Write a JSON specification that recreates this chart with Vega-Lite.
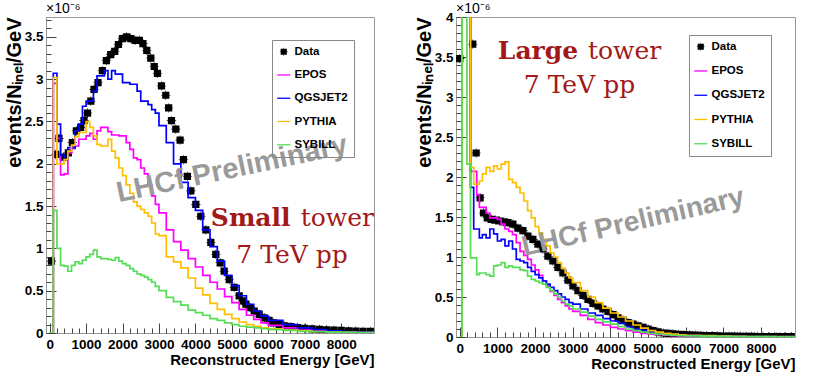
{
"$schema":"https://vega.github.io/schema/vega-lite/v6.json",
"padding":{"left":3,"top":1,"right":0,"bottom":0},
"background":"white",
"spacing":38,
"config":{
 "view":{"stroke":"#999999","strokeWidth":1},
 "axis":{"grid":false,"labelFont":"Liberation Sans","labelFontWeight":"bold","labelFontSize":13.5,"labelColor":"#000000","labelFlush":false,"labelOverlap":false,"tickColor":"#444444","tickWidth":1,"domainColor":"#999999","domainWidth":1,"titleFont":"Liberation Sans","titleFontWeight":"bold","titleFontSize":15,"titleColor":"#000000"},
 "legend":{"orient":"none","padding":6,"rowPadding":10.25,"labelFont":"Liberation Sans","labelFontWeight":"bold","labelFontSize":11.5,"labelColor":"#000000","strokeColor":"#888888","symbolSize":100,"labelOffset":5,"symbolStrokeWidth":0}
},
"resolve":{"scale":{"color":"independent","shape":"independent"},"legend":{"color":"independent","shape":"independent"}},
"hconcat":[
{
 "width":328,"height":316,
 "resolve":{"axis":{"x":"independent","y":"independent"}},
 "layer":[
  {"data":{"values":[
   {"series":"Data","E":50,"v":0.85},{"series":"Data","E":165,"v":2.11},{"series":"Data","E":256,"v":2.30},{"series":"Data","E":375,"v":2.08},{"series":"Data","E":513,"v":2.13},{"series":"Data","E":623,"v":2.25},{"series":"Data","E":733,"v":2.39},{"series":"Data","E":852,"v":2.43},{"series":"Data","E":943,"v":2.51},{"series":"Data","E":1040,"v":2.60},{"series":"Data","E":1130,"v":2.74},{"series":"Data","E":1218,"v":2.88},{"series":"Data","E":1328,"v":2.96},{"series":"Data","E":1447,"v":3.10},{"series":"Data","E":1557,"v":3.22},{"series":"Data","E":1676,"v":3.29},{"series":"Data","E":1786,"v":3.33},{"series":"Data","E":1886,"v":3.41},{"series":"Data","E":1996,"v":3.48},{"series":"Data","E":2115,"v":3.50},{"series":"Data","E":2225,"v":3.48},{"series":"Data","E":2344,"v":3.46},{"series":"Data","E":2463,"v":3.46},{"series":"Data","E":2560,"v":3.42},{"series":"Data","E":2665,"v":3.34},{"series":"Data","E":2775,"v":3.25},{"series":"Data","E":2870,"v":3.15},{"series":"Data","E":2958,"v":3.07},{"series":"Data","E":3068,"v":2.92},{"series":"Data","E":3187,"v":2.81},{"series":"Data","E":3265,"v":2.66},{"series":"Data","E":3343,"v":2.51},{"series":"Data","E":3462,"v":2.41},{"series":"Data","E":3580,"v":2.28},{"series":"Data","E":3672,"v":2.05},{"series":"Data","E":3780,"v":1.85},{"series":"Data","E":3874,"v":1.68},{"series":"Data","E":4011,"v":1.52},{"series":"Data","E":4148,"v":1.38},{"series":"Data","E":4286,"v":1.22},{"series":"Data","E":4423,"v":1.07},{"series":"Data","E":4560,"v":0.93},{"series":"Data","E":4679,"v":0.83},{"series":"Data","E":4789,"v":0.73},{"series":"Data","E":4927,"v":0.63},{"series":"Data","E":5064,"v":0.54},{"series":"Data","E":5201,"v":0.44},{"series":"Data","E":5300,"v":0.38},{"series":"Data","E":5385,"v":0.34},{"series":"Data","E":5500,"v":0.30},{"series":"Data","E":5613,"v":0.26},{"series":"Data","E":5750,"v":0.22},{"series":"Data","E":5888,"v":0.18},{"series":"Data","E":6020,"v":0.15},{"series":"Data","E":6150,"v":0.12},{"series":"Data","E":6300,"v":0.10},{"series":"Data","E":6450,"v":0.085},{"series":"Data","E":6621,"v":0.075},{"series":"Data","E":6800,"v":0.065},{"series":"Data","E":7000,"v":0.055},{"series":"Data","E":7200,"v":0.048},{"series":"Data","E":7400,"v":0.043},{"series":"Data","E":7600,"v":0.038},{"series":"Data","E":7800,"v":0.034},{"series":"Data","E":8000,"v":0.03},{"series":"Data","E":8200,"v":0.026},{"series":"Data","E":8400,"v":0.022},{"series":"Data","E":8600,"v":0.02},{"series":"Data","E":8800,"v":0.018}
  ]},
   "mark":{"type":"point","filled":true,"opacity":1,"size":136,"clip":true},
   "encoding":{
    "x":{"field":"E","type":"quantitative","scale":{"domain":[-100,8900],"nice":false,"zero":false},
     "axis":{"orient":"bottom","values":[0,1000,2000,3000,4000,5000,6000,7000,8000],"format":"d","tickSize":-10,"labelPadding":14.5,"title":"Reconstructed Energy [GeV]","titleAnchor":"end","titlePadding":1}},
    "y":{"field":"v","type":"quantitative","scale":{"domain":[0,3.735],"nice":false,"zero":false},
     "axis":{"orient":"left","values":[0,0.5,1,1.5,2,2.5,3,3.5],"format":"~g","tickSize":-10,"labelPadding":13,"title":"events/Nᵢₙₑₗ/GeV","titleFontSize":20,"titleAnchor":"end","titlePadding":0}},
    "color":{"field":"series","type":"nominal","scale":{"domain":["Data","EPOS","QGSJET2","PYTHIA","SYBILL"],"range":["#000000","#FF00FF","#0000FF","#FFBF00","#55DD55"]},"legend":{"title":null,"legendX":226,"legendY":23}},
    "shape":{"field":"series","type":"nominal","scale":{"domain":["Data","EPOS","QGSJET2","PYTHIA","SYBILL"],"range":["M-0.62,-0.62H0.62V0.62H-0.62Z M-0.8,-0.05H0.8V0.05H-0.8Z M-0.05,-0.8H0.05V0.8H-0.05Z","M-1.3,-0.13H1.3V0.13H-1.3Z","M-1.3,-0.13H1.3V0.13H-1.3Z","M-1.3,-0.13H1.3V0.13H-1.3Z","M-1.3,-0.13H1.3V0.13H-1.3Z"]},"legend":{"title":null,"legendX":226,"legendY":23}}
   }},
  {"data":{"values":[
   {"series":"EPOS","E":0,"v":0},{"series":"EPOS","E":100,"v":2.95},{"series":"EPOS","E":200,"v":2.30},{"series":"EPOS","E":300,"v":1.87},{"series":"EPOS","E":400,"v":1.88},{"series":"EPOS","E":500,"v":2.13},{"series":"EPOS","E":600,"v":2.18},{"series":"EPOS","E":700,"v":2.21},{"series":"EPOS","E":800,"v":2.29},{"series":"EPOS","E":900,"v":2.29},{"series":"EPOS","E":1000,"v":2.33},{"series":"EPOS","E":1100,"v":2.36},{"series":"EPOS","E":1200,"v":2.29},{"series":"EPOS","E":1300,"v":2.39},{"series":"EPOS","E":1400,"v":2.43},{"series":"EPOS","E":1500,"v":2.43},{"series":"EPOS","E":1600,"v":2.38},{"series":"EPOS","E":1700,"v":2.34},{"series":"EPOS","E":1800,"v":2.34},{"series":"EPOS","E":1900,"v":2.33},{"series":"EPOS","E":2000,"v":2.33},{"series":"EPOS","E":2100,"v":2.25},{"series":"EPOS","E":2200,"v":2.17},{"series":"EPOS","E":2300,"v":2.07},{"series":"EPOS","E":2400,"v":2.05},{"series":"EPOS","E":2500,"v":1.95},{"series":"EPOS","E":2600,"v":1.88},{"series":"EPOS","E":2700,"v":1.75},{"series":"EPOS","E":2800,"v":1.62},{"series":"EPOS","E":2900,"v":1.52},{"series":"EPOS","E":3000,"v":1.42},{"series":"EPOS","E":3200,"v":1.22},{"series":"EPOS","E":3400,"v":1.08},{"series":"EPOS","E":3600,"v":0.98},{"series":"EPOS","E":3800,"v":0.88},{"series":"EPOS","E":4000,"v":0.78},{"series":"EPOS","E":4200,"v":0.68},{"series":"EPOS","E":4400,"v":0.60},{"series":"EPOS","E":4600,"v":0.52},{"series":"EPOS","E":4800,"v":0.43},{"series":"EPOS","E":5000,"v":0.36},{"series":"EPOS","E":5200,"v":0.28},{"series":"EPOS","E":5400,"v":0.21},{"series":"EPOS","E":5600,"v":0.16},{"series":"EPOS","E":5800,"v":0.12},{"series":"EPOS","E":6000,"v":0.09},{"series":"EPOS","E":6400,"v":0.06},{"series":"EPOS","E":6800,"v":0.035},{"series":"EPOS","E":7200,"v":0.025},{"series":"EPOS","E":7600,"v":0.018},{"series":"EPOS","E":8000,"v":0.012},{"series":"EPOS","E":8400,"v":0.008},{"series":"EPOS","E":8900,"v":0.008},
   {"series":"QGSJET2","E":0,"v":0},{"series":"QGSJET2","E":100,"v":3.07},{"series":"QGSJET2","E":200,"v":2.47},{"series":"QGSJET2","E":300,"v":2.10},{"series":"QGSJET2","E":400,"v":2.05},{"series":"QGSJET2","E":500,"v":2.19},{"series":"QGSJET2","E":600,"v":2.19},{"series":"QGSJET2","E":700,"v":2.39},{"series":"QGSJET2","E":800,"v":2.47},{"series":"QGSJET2","E":900,"v":2.68},{"series":"QGSJET2","E":1000,"v":2.74},{"series":"QGSJET2","E":1100,"v":2.74},{"series":"QGSJET2","E":1200,"v":2.86},{"series":"QGSJET2","E":1300,"v":3.04},{"series":"QGSJET2","E":1400,"v":3.04},{"series":"QGSJET2","E":1500,"v":3.10},{"series":"QGSJET2","E":1600,"v":3.00},{"series":"QGSJET2","E":1700,"v":3.10},{"series":"QGSJET2","E":1800,"v":3.06},{"series":"QGSJET2","E":1900,"v":3.06},{"series":"QGSJET2","E":2000,"v":2.96},{"series":"QGSJET2","E":2100,"v":2.96},{"series":"QGSJET2","E":2200,"v":2.94},{"series":"QGSJET2","E":2300,"v":2.94},{"series":"QGSJET2","E":2400,"v":2.86},{"series":"QGSJET2","E":2500,"v":2.74},{"series":"QGSJET2","E":2600,"v":2.74},{"series":"QGSJET2","E":2700,"v":2.70},{"series":"QGSJET2","E":2800,"v":2.64},{"series":"QGSJET2","E":2900,"v":2.60},{"series":"QGSJET2","E":3000,"v":2.45},{"series":"QGSJET2","E":3200,"v":2.25},{"series":"QGSJET2","E":3400,"v":2.00},{"series":"QGSJET2","E":3600,"v":1.78},{"series":"QGSJET2","E":3800,"v":1.60},{"series":"QGSJET2","E":4000,"v":1.45},{"series":"QGSJET2","E":4200,"v":1.22},{"series":"QGSJET2","E":4400,"v":1.02},{"series":"QGSJET2","E":4600,"v":0.85},{"series":"QGSJET2","E":4800,"v":0.68},{"series":"QGSJET2","E":5000,"v":0.56},{"series":"QGSJET2","E":5200,"v":0.44},{"series":"QGSJET2","E":5400,"v":0.34},{"series":"QGSJET2","E":5600,"v":0.26},{"series":"QGSJET2","E":5800,"v":0.20},{"series":"QGSJET2","E":6000,"v":0.15},{"series":"QGSJET2","E":6400,"v":0.10},{"series":"QGSJET2","E":6800,"v":0.06},{"series":"QGSJET2","E":7200,"v":0.04},{"series":"QGSJET2","E":7600,"v":0.025},{"series":"QGSJET2","E":8000,"v":0.018},{"series":"QGSJET2","E":8400,"v":0.012},{"series":"QGSJET2","E":8900,"v":0.012},
   {"series":"PYTHIA","E":0,"v":0},{"series":"PYTHIA","E":100,"v":3.02},{"series":"PYTHIA","E":200,"v":2.00},{"series":"PYTHIA","E":300,"v":2.00},{"series":"PYTHIA","E":400,"v":2.05},{"series":"PYTHIA","E":500,"v":2.15},{"series":"PYTHIA","E":600,"v":2.22},{"series":"PYTHIA","E":700,"v":2.32},{"series":"PYTHIA","E":800,"v":2.37},{"series":"PYTHIA","E":900,"v":2.37},{"series":"PYTHIA","E":1000,"v":2.50},{"series":"PYTHIA","E":1100,"v":2.43},{"series":"PYTHIA","E":1200,"v":2.33},{"series":"PYTHIA","E":1300,"v":2.23},{"series":"PYTHIA","E":1400,"v":2.21},{"series":"PYTHIA","E":1500,"v":2.21},{"series":"PYTHIA","E":1600,"v":2.29},{"series":"PYTHIA","E":1700,"v":2.15},{"series":"PYTHIA","E":1800,"v":2.07},{"series":"PYTHIA","E":1900,"v":1.95},{"series":"PYTHIA","E":2000,"v":1.86},{"series":"PYTHIA","E":2100,"v":1.75},{"series":"PYTHIA","E":2200,"v":1.65},{"series":"PYTHIA","E":2300,"v":1.55},{"series":"PYTHIA","E":2400,"v":1.50},{"series":"PYTHIA","E":2500,"v":1.46},{"series":"PYTHIA","E":2600,"v":1.42},{"series":"PYTHIA","E":2700,"v":1.38},{"series":"PYTHIA","E":2800,"v":1.30},{"series":"PYTHIA","E":2900,"v":1.17},{"series":"PYTHIA","E":3000,"v":1.15},{"series":"PYTHIA","E":3200,"v":0.90},{"series":"PYTHIA","E":3400,"v":0.84},{"series":"PYTHIA","E":3600,"v":0.77},{"series":"PYTHIA","E":3800,"v":0.65},{"series":"PYTHIA","E":4000,"v":0.53},{"series":"PYTHIA","E":4200,"v":0.45},{"series":"PYTHIA","E":4400,"v":0.35},{"series":"PYTHIA","E":4600,"v":0.28},{"series":"PYTHIA","E":4800,"v":0.22},{"series":"PYTHIA","E":5000,"v":0.17},{"series":"PYTHIA","E":5200,"v":0.13},{"series":"PYTHIA","E":5400,"v":0.10},{"series":"PYTHIA","E":5600,"v":0.08},{"series":"PYTHIA","E":5800,"v":0.06},{"series":"PYTHIA","E":6000,"v":0.05},{"series":"PYTHIA","E":6400,"v":0.035},{"series":"PYTHIA","E":6800,"v":0.025},{"series":"PYTHIA","E":7200,"v":0.018},{"series":"PYTHIA","E":7600,"v":0.012},{"series":"PYTHIA","E":8000,"v":0.008},{"series":"PYTHIA","E":8400,"v":0.006},{"series":"PYTHIA","E":8900,"v":0.006},
   {"series":"SYBILL","E":0,"v":0},{"series":"SYBILL","E":100,"v":1.45},{"series":"SYBILL","E":200,"v":1.00},{"series":"SYBILL","E":300,"v":0.80},{"series":"SYBILL","E":400,"v":0.79},{"series":"SYBILL","E":500,"v":0.73},{"series":"SYBILL","E":600,"v":0.80},{"series":"SYBILL","E":700,"v":0.84},{"series":"SYBILL","E":800,"v":0.82},{"series":"SYBILL","E":900,"v":0.86},{"series":"SYBILL","E":1000,"v":0.90},{"series":"SYBILL","E":1100,"v":0.93},{"series":"SYBILL","E":1200,"v":0.98},{"series":"SYBILL","E":1300,"v":0.90},{"series":"SYBILL","E":1400,"v":0.88},{"series":"SYBILL","E":1500,"v":0.88},{"series":"SYBILL","E":1600,"v":0.87},{"series":"SYBILL","E":1700,"v":0.86},{"series":"SYBILL","E":1800,"v":0.89},{"series":"SYBILL","E":1900,"v":0.85},{"series":"SYBILL","E":2000,"v":0.82},{"series":"SYBILL","E":2100,"v":0.80},{"series":"SYBILL","E":2200,"v":0.76},{"series":"SYBILL","E":2300,"v":0.73},{"series":"SYBILL","E":2400,"v":0.70},{"series":"SYBILL","E":2500,"v":0.68},{"series":"SYBILL","E":2600,"v":0.66},{"series":"SYBILL","E":2700,"v":0.63},{"series":"SYBILL","E":2800,"v":0.60},{"series":"SYBILL","E":2900,"v":0.55},{"series":"SYBILL","E":3000,"v":0.50},{"series":"SYBILL","E":3200,"v":0.42},{"series":"SYBILL","E":3400,"v":0.37},{"series":"SYBILL","E":3600,"v":0.33},{"series":"SYBILL","E":3800,"v":0.27},{"series":"SYBILL","E":4000,"v":0.24},{"series":"SYBILL","E":4200,"v":0.21},{"series":"SYBILL","E":4400,"v":0.17},{"series":"SYBILL","E":4600,"v":0.15},{"series":"SYBILL","E":4800,"v":0.12},{"series":"SYBILL","E":5000,"v":0.10},{"series":"SYBILL","E":5200,"v":0.08},{"series":"SYBILL","E":5400,"v":0.07},{"series":"SYBILL","E":5600,"v":0.06},{"series":"SYBILL","E":5800,"v":0.05},{"series":"SYBILL","E":6000,"v":0.04},{"series":"SYBILL","E":6400,"v":0.03},{"series":"SYBILL","E":6800,"v":0.02},{"series":"SYBILL","E":7200,"v":0.015},{"series":"SYBILL","E":7600,"v":0.01},{"series":"SYBILL","E":8000,"v":0.008},{"series":"SYBILL","E":8400,"v":0.005},{"series":"SYBILL","E":8900,"v":0.005}
  ]},
   "mark":{"type":"line","interpolate":"step-after","strokeWidth":1.7,"clip":true},
   "encoding":{
    "x":{"field":"E","type":"quantitative","axis":{"orient":"bottom","values":[0,200,400,600,800,1000,1200,1400,1600,1800,2000,2200,2400,2600,2800,3000,3200,3400,3600,3800,4000,4200,4400,4600,4800,5000,5200,5400,5600,5800,6000,6200,6400,6600,6800,7000,7200,7400,7600,7800,8000,8200,8400,8600,8800],"tickSize":-5,"labels":false,"domain":false,"title":null}},
    "y":{"field":"v","type":"quantitative","axis":{"orient":"left","values":[0,0.1,0.2,0.3,0.4,0.5,0.6,0.7,0.8,0.9,1,1.1,1.2,1.3,1.4,1.5,1.6,1.7,1.8,1.9,2,2.1,2.2,2.3,2.4,2.5,2.6,2.7,2.8,2.9,3,3.1,3.2,3.3,3.4,3.5,3.6,3.7],"tickSize":-5,"labels":false,"domain":false,"title":null}},
    "color":{"field":"series","type":"nominal"}
   }},
  {"data":{"values":[{"label":"×10⁻⁶"}]},
   "mark":{"type":"text","align":"left","baseline":"bottom","font":"Liberation Sans","fontSize":14,"dy":-1,"color":"#000000"},
   "encoding":{"x":{"datum":-100,"axis":null},"y":{"datum":3.735,"axis":null},"text":{"field":"label"}}},
  {"data":{"values":[{"label":"LHCf Preliminary"}]},
   "mark":{"type":"text","align":"center","baseline":"middle","angle":348,"font":"Liberation Sans","fontWeight":"bold","fontSize":29,"color":"#9a9a9a"},
   "encoding":{"x":{"datum":5000,"axis":null},"y":{"datum":1.94,"axis":null},"text":{"field":"label"}}},
  {"data":{"values":[{"label":"Small"}]},
   "mark":{"type":"text","align":"left","baseline":"alphabetic","font":"DejaVu Serif","fontWeight":"bold","fontSize":25,"color":"#A31919"},
   "encoding":{"x":{"datum":4423,"axis":null},"y":{"datum":1.26,"axis":null},"text":{"field":"label"}}},
  {"data":{"values":[{"label":"tower"}]},
   "mark":{"type":"text","align":"right","baseline":"alphabetic","font":"DejaVu Serif","fontWeight":"normal","fontSize":25,"color":"#A31919"},
   "encoding":{"x":{"datum":8900,"axis":null},"y":{"datum":1.26,"axis":null},"text":{"field":"label"}}},
  {"data":{"values":[{"label":"7 TeV pp"}]},
   "mark":{"type":"text","align":"center","baseline":"alphabetic","font":"DejaVu Serif","fontWeight":"normal","fontSize":25,"color":"#A31919"},
   "encoding":{"x":{"datum":6650,"axis":null},"y":{"datum":0.83,"axis":null},"text":{"field":"label"}}}
 ]
},
{
 "width":339,"height":320,
 "resolve":{"axis":{"x":"independent","y":"independent"}},
 "layer":[
  {"data":{"values":[
   {"series":"Data","E":0,"v":3.48},{"series":"Data","E":345,"v":3.66},{"series":"Data","E":435,"v":2.30},{"series":"Data","E":540,"v":1.74},{"series":"Data","E":630,"v":1.55},{"series":"Data","E":730,"v":1.49},{"series":"Data","E":840,"v":1.47},{"series":"Data","E":950,"v":1.46},{"series":"Data","E":1060,"v":1.45},{"series":"Data","E":1170,"v":1.44},{"series":"Data","E":1280,"v":1.43},{"series":"Data","E":1410,"v":1.41},{"series":"Data","E":1543,"v":1.36},{"series":"Data","E":1676,"v":1.33},{"series":"Data","E":1809,"v":1.26},{"series":"Data","E":1941,"v":1.22},{"series":"Data","E":2074,"v":1.16},{"series":"Data","E":2207,"v":1.10},{"series":"Data","E":2340,"v":1.01},{"series":"Data","E":2473,"v":0.95},{"series":"Data","E":2606,"v":0.87},{"series":"Data","E":2739,"v":0.80},{"series":"Data","E":2872,"v":0.71},{"series":"Data","E":3005,"v":0.64},{"series":"Data","E":3138,"v":0.58},{"series":"Data","E":3271,"v":0.52},{"series":"Data","E":3404,"v":0.47},{"series":"Data","E":3537,"v":0.42},{"series":"Data","E":3670,"v":0.39},{"series":"Data","E":3800,"v":0.35},{"series":"Data","E":3936,"v":0.32},{"series":"Data","E":4069,"v":0.28},{"series":"Data","E":4202,"v":0.24},{"series":"Data","E":4335,"v":0.21},{"series":"Data","E":4468,"v":0.18},{"series":"Data","E":4600,"v":0.16},{"series":"Data","E":4734,"v":0.14},{"series":"Data","E":4867,"v":0.12},{"series":"Data","E":5000,"v":0.10},{"series":"Data","E":5133,"v":0.08},{"series":"Data","E":5266,"v":0.065},{"series":"Data","E":5400,"v":0.05},{"series":"Data","E":5530,"v":0.045},{"series":"Data","E":5660,"v":0.04},{"series":"Data","E":5800,"v":0.033},{"series":"Data","E":5950,"v":0.03},{"series":"Data","E":6100,"v":0.026},{"series":"Data","E":6250,"v":0.023},{"series":"Data","E":6400,"v":0.02},{"series":"Data","E":6550,"v":0.018},{"series":"Data","E":6700,"v":0.016},{"series":"Data","E":6850,"v":0.014},{"series":"Data","E":7000,"v":0.012},{"series":"Data","E":7150,"v":0.011},{"series":"Data","E":7300,"v":0.01},{"series":"Data","E":7450,"v":0.009},{"series":"Data","E":7600,"v":0.008},{"series":"Data","E":7750,"v":0.007},{"series":"Data","E":7900,"v":0.006},{"series":"Data","E":8050,"v":0.006},{"series":"Data","E":8200,"v":0.005},{"series":"Data","E":8350,"v":0.005},{"series":"Data","E":8500,"v":0.005},{"series":"Data","E":8650,"v":0.004},{"series":"Data","E":8800,"v":0.004}
  ]},
   "mark":{"type":"point","filled":true,"opacity":1,"size":136,"clip":true},
   "encoding":{
    "x":{"field":"E","type":"quantitative","scale":{"domain":[-100,8900],"nice":false,"zero":false},
     "axis":{"orient":"bottom","values":[0,1000,2000,3000,4000,5000,6000,7000,8000],"format":"d","tickSize":-10,"labelPadding":14.5,"title":"Reconstructed Energy [GeV]","titleAnchor":"end","titlePadding":1}},
    "y":{"field":"v","type":"quantitative","scale":{"domain":[0,4],"nice":false,"zero":false},
     "axis":{"orient":"left","values":[0,0.5,1,1.5,2,2.5,3,3.5,4],"format":"~g","tickSize":-10,"labelPadding":13,"title":"events/Nᵢₙₑₗ/GeV","titleFontSize":20,"titleAnchor":"end","titlePadding":0}},
    "color":{"field":"series","type":"nominal","scale":{"domain":["Data","EPOS","QGSJET2","PYTHIA","SYBILL"],"range":["#000000","#FF00FF","#0000FF","#FFBF00","#55DD55"]},"legend":{"title":null,"legendX":233,"legendY":18,"rowPadding":11.25}},
    "shape":{"field":"series","type":"nominal","scale":{"domain":["Data","EPOS","QGSJET2","PYTHIA","SYBILL"],"range":["M-0.62,-0.62H0.62V0.62H-0.62Z M-0.8,-0.05H0.8V0.05H-0.8Z M-0.05,-0.8H0.05V0.8H-0.05Z","M-1.3,-0.13H1.3V0.13H-1.3Z","M-1.3,-0.13H1.3V0.13H-1.3Z","M-1.3,-0.13H1.3V0.13H-1.3Z","M-1.3,-0.13H1.3V0.13H-1.3Z"]},"legend":{"title":null,"legendX":233,"legendY":18,"rowPadding":11.25}}
   }},
  {"data":{"values":[
   {"series":"EPOS","E":0,"v":0},{"series":"EPOS","E":60,"v":6},{"series":"EPOS","E":190,"v":6},{"series":"EPOS","E":285,"v":2.07},{"series":"EPOS","E":370,"v":2.07},{"series":"EPOS","E":450,"v":1.78},{"series":"EPOS","E":520,"v":1.62},{"series":"EPOS","E":600,"v":1.62},{"series":"EPOS","E":700,"v":1.55},{"series":"EPOS","E":800,"v":1.49},{"series":"EPOS","E":900,"v":1.49},{"series":"EPOS","E":1000,"v":1.47},{"series":"EPOS","E":1100,"v":1.41},{"series":"EPOS","E":1200,"v":1.35},{"series":"EPOS","E":1300,"v":1.32},{"series":"EPOS","E":1400,"v":1.28},{"series":"EPOS","E":1500,"v":1.18},{"series":"EPOS","E":1600,"v":1.07},{"series":"EPOS","E":1700,"v":1.02},{"series":"EPOS","E":1800,"v":0.97},{"series":"EPOS","E":1900,"v":0.90},{"series":"EPOS","E":2000,"v":0.84},{"series":"EPOS","E":2100,"v":0.77},{"series":"EPOS","E":2200,"v":0.70},{"series":"EPOS","E":2300,"v":0.64},{"series":"EPOS","E":2400,"v":0.57},{"series":"EPOS","E":2500,"v":0.52},{"series":"EPOS","E":2600,"v":0.47},{"series":"EPOS","E":2700,"v":0.43},{"series":"EPOS","E":2800,"v":0.39},{"series":"EPOS","E":2900,"v":0.35},{"series":"EPOS","E":3000,"v":0.32},{"series":"EPOS","E":3200,"v":0.27},{"series":"EPOS","E":3400,"v":0.22},{"series":"EPOS","E":3600,"v":0.18},{"series":"EPOS","E":3800,"v":0.15},{"series":"EPOS","E":4000,"v":0.12},{"series":"EPOS","E":4200,"v":0.10},{"series":"EPOS","E":4400,"v":0.08},{"series":"EPOS","E":4600,"v":0.06},{"series":"EPOS","E":4800,"v":0.045},{"series":"EPOS","E":5000,"v":0.035},{"series":"EPOS","E":5200,"v":0.028},{"series":"EPOS","E":5400,"v":0.022},{"series":"EPOS","E":5600,"v":0.018},{"series":"EPOS","E":5800,"v":0.014},{"series":"EPOS","E":6000,"v":0.012},{"series":"EPOS","E":6400,"v":0.009},{"series":"EPOS","E":6800,"v":0.006},{"series":"EPOS","E":7200,"v":0.004},{"series":"EPOS","E":7600,"v":0.003},{"series":"EPOS","E":8000,"v":0.002},{"series":"EPOS","E":8400,"v":0.002},{"series":"EPOS","E":8900,"v":0.002},
   {"series":"QGSJET2","E":0,"v":0},{"series":"QGSJET2","E":60,"v":6},{"series":"QGSJET2","E":190,"v":6},{"series":"QGSJET2","E":285,"v":1.87},{"series":"QGSJET2","E":370,"v":1.35},{"series":"QGSJET2","E":450,"v":1.35},{"series":"QGSJET2","E":520,"v":1.24},{"series":"QGSJET2","E":600,"v":1.28},{"series":"QGSJET2","E":700,"v":1.24},{"series":"QGSJET2","E":800,"v":1.35},{"series":"QGSJET2","E":900,"v":1.29},{"series":"QGSJET2","E":1000,"v":1.20},{"series":"QGSJET2","E":1100,"v":1.22},{"series":"QGSJET2","E":1200,"v":1.14},{"series":"QGSJET2","E":1300,"v":1.20},{"series":"QGSJET2","E":1400,"v":1.10},{"series":"QGSJET2","E":1500,"v":0.97},{"series":"QGSJET2","E":1600,"v":0.95},{"series":"QGSJET2","E":1700,"v":0.93},{"series":"QGSJET2","E":1800,"v":0.87},{"series":"QGSJET2","E":1900,"v":0.82},{"series":"QGSJET2","E":2000,"v":0.78},{"series":"QGSJET2","E":2100,"v":0.74},{"series":"QGSJET2","E":2200,"v":0.70},{"series":"QGSJET2","E":2300,"v":0.66},{"series":"QGSJET2","E":2400,"v":0.62},{"series":"QGSJET2","E":2500,"v":0.58},{"series":"QGSJET2","E":2600,"v":0.54},{"series":"QGSJET2","E":2700,"v":0.50},{"series":"QGSJET2","E":2800,"v":0.47},{"series":"QGSJET2","E":2900,"v":0.43},{"series":"QGSJET2","E":3000,"v":0.41},{"series":"QGSJET2","E":3200,"v":0.35},{"series":"QGSJET2","E":3400,"v":0.30},{"series":"QGSJET2","E":3600,"v":0.27},{"series":"QGSJET2","E":3800,"v":0.23},{"series":"QGSJET2","E":4000,"v":0.20},{"series":"QGSJET2","E":4200,"v":0.17},{"series":"QGSJET2","E":4400,"v":0.13},{"series":"QGSJET2","E":4600,"v":0.10},{"series":"QGSJET2","E":4800,"v":0.08},{"series":"QGSJET2","E":5000,"v":0.065},{"series":"QGSJET2","E":5200,"v":0.05},{"series":"QGSJET2","E":5400,"v":0.04},{"series":"QGSJET2","E":5600,"v":0.032},{"series":"QGSJET2","E":5800,"v":0.026},{"series":"QGSJET2","E":6000,"v":0.02},{"series":"QGSJET2","E":6400,"v":0.015},{"series":"QGSJET2","E":6800,"v":0.011},{"series":"QGSJET2","E":7200,"v":0.008},{"series":"QGSJET2","E":7600,"v":0.006},{"series":"QGSJET2","E":8000,"v":0.005},{"series":"QGSJET2","E":8400,"v":0.004},{"series":"QGSJET2","E":8900,"v":0.004},
   {"series":"PYTHIA","E":0,"v":0},{"series":"PYTHIA","E":60,"v":6},{"series":"PYTHIA","E":190,"v":6},{"series":"PYTHIA","E":285,"v":2.12},{"series":"PYTHIA","E":370,"v":1.91},{"series":"PYTHIA","E":450,"v":1.91},{"series":"PYTHIA","E":520,"v":1.95},{"series":"PYTHIA","E":600,"v":2.04},{"series":"PYTHIA","E":700,"v":2.12},{"series":"PYTHIA","E":800,"v":2.07},{"series":"PYTHIA","E":900,"v":2.14},{"series":"PYTHIA","E":1000,"v":2.10},{"series":"PYTHIA","E":1100,"v":2.16},{"series":"PYTHIA","E":1200,"v":2.19},{"series":"PYTHIA","E":1300,"v":1.97},{"series":"PYTHIA","E":1400,"v":1.93},{"series":"PYTHIA","E":1500,"v":1.87},{"series":"PYTHIA","E":1600,"v":1.80},{"series":"PYTHIA","E":1700,"v":1.70},{"series":"PYTHIA","E":1800,"v":1.58},{"series":"PYTHIA","E":1900,"v":1.49},{"series":"PYTHIA","E":2000,"v":1.38},{"series":"PYTHIA","E":2100,"v":1.30},{"series":"PYTHIA","E":2200,"v":1.22},{"series":"PYTHIA","E":2300,"v":1.14},{"series":"PYTHIA","E":2400,"v":1.05},{"series":"PYTHIA","E":2500,"v":1.00},{"series":"PYTHIA","E":2600,"v":0.93},{"series":"PYTHIA","E":2700,"v":0.86},{"series":"PYTHIA","E":2800,"v":0.80},{"series":"PYTHIA","E":2900,"v":0.74},{"series":"PYTHIA","E":3000,"v":0.68},{"series":"PYTHIA","E":3200,"v":0.58},{"series":"PYTHIA","E":3400,"v":0.50},{"series":"PYTHIA","E":3600,"v":0.43},{"series":"PYTHIA","E":3800,"v":0.36},{"series":"PYTHIA","E":4000,"v":0.30},{"series":"PYTHIA","E":4200,"v":0.25},{"series":"PYTHIA","E":4400,"v":0.20},{"series":"PYTHIA","E":4600,"v":0.15},{"series":"PYTHIA","E":4800,"v":0.11},{"series":"PYTHIA","E":5000,"v":0.08},{"series":"PYTHIA","E":5200,"v":0.06},{"series":"PYTHIA","E":5400,"v":0.045},{"series":"PYTHIA","E":5600,"v":0.035},{"series":"PYTHIA","E":5800,"v":0.028},{"series":"PYTHIA","E":6000,"v":0.022},{"series":"PYTHIA","E":6400,"v":0.016},{"series":"PYTHIA","E":6800,"v":0.011},{"series":"PYTHIA","E":7200,"v":0.008},{"series":"PYTHIA","E":7600,"v":0.006},{"series":"PYTHIA","E":8000,"v":0.005},{"series":"PYTHIA","E":8400,"v":0.004},{"series":"PYTHIA","E":8900,"v":0.004},
   {"series":"SYBILL","E":0,"v":0},{"series":"SYBILL","E":60,"v":6},{"series":"SYBILL","E":190,"v":2.16},{"series":"SYBILL","E":285,"v":0.99},{"series":"SYBILL","E":370,"v":0.99},{"series":"SYBILL","E":450,"v":0.78},{"series":"SYBILL","E":520,"v":0.80},{"series":"SYBILL","E":600,"v":0.80},{"series":"SYBILL","E":700,"v":0.78},{"series":"SYBILL","E":800,"v":0.76},{"series":"SYBILL","E":900,"v":0.89},{"series":"SYBILL","E":1000,"v":0.90},{"series":"SYBILL","E":1100,"v":0.93},{"series":"SYBILL","E":1200,"v":0.87},{"series":"SYBILL","E":1300,"v":0.89},{"series":"SYBILL","E":1400,"v":0.87},{"series":"SYBILL","E":1500,"v":0.87},{"series":"SYBILL","E":1600,"v":0.84},{"series":"SYBILL","E":1700,"v":0.83},{"series":"SYBILL","E":1800,"v":0.76},{"series":"SYBILL","E":1900,"v":0.72},{"series":"SYBILL","E":2000,"v":0.70},{"series":"SYBILL","E":2100,"v":0.68},{"series":"SYBILL","E":2200,"v":0.66},{"series":"SYBILL","E":2300,"v":0.62},{"series":"SYBILL","E":2400,"v":0.58},{"series":"SYBILL","E":2500,"v":0.54},{"series":"SYBILL","E":2600,"v":0.50},{"series":"SYBILL","E":2700,"v":0.45},{"series":"SYBILL","E":2800,"v":0.41},{"series":"SYBILL","E":2900,"v":0.39},{"series":"SYBILL","E":3000,"v":0.35},{"series":"SYBILL","E":3200,"v":0.31},{"series":"SYBILL","E":3400,"v":0.26},{"series":"SYBILL","E":3600,"v":0.22},{"series":"SYBILL","E":3800,"v":0.19},{"series":"SYBILL","E":4000,"v":0.16},{"series":"SYBILL","E":4200,"v":0.13},{"series":"SYBILL","E":4400,"v":0.10},{"series":"SYBILL","E":4600,"v":0.08},{"series":"SYBILL","E":4800,"v":0.06},{"series":"SYBILL","E":5000,"v":0.045},{"series":"SYBILL","E":5200,"v":0.035},{"series":"SYBILL","E":5400,"v":0.028},{"series":"SYBILL","E":5600,"v":0.022},{"series":"SYBILL","E":5800,"v":0.018},{"series":"SYBILL","E":6000,"v":0.015},{"series":"SYBILL","E":6400,"v":0.011},{"series":"SYBILL","E":6800,"v":0.008},{"series":"SYBILL","E":7200,"v":0.006},{"series":"SYBILL","E":7600,"v":0.005},{"series":"SYBILL","E":8000,"v":0.004},{"series":"SYBILL","E":8400,"v":0.003},{"series":"SYBILL","E":8900,"v":0.003}
  ]},
   "mark":{"type":"line","interpolate":"step-after","strokeWidth":1.7,"clip":true},
   "encoding":{
    "x":{"field":"E","type":"quantitative","axis":{"orient":"bottom","values":[0,200,400,600,800,1000,1200,1400,1600,1800,2000,2200,2400,2600,2800,3000,3200,3400,3600,3800,4000,4200,4400,4600,4800,5000,5200,5400,5600,5800,6000,6200,6400,6600,6800,7000,7200,7400,7600,7800,8000,8200,8400,8600,8800],"tickSize":-5,"labels":false,"domain":false,"title":null}},
    "y":{"field":"v","type":"quantitative","axis":{"orient":"left","values":[0,0.1,0.2,0.3,0.4,0.5,0.6,0.7,0.8,0.9,1,1.1,1.2,1.3,1.4,1.5,1.6,1.7,1.8,1.9,2,2.1,2.2,2.3,2.4,2.5,2.6,2.7,2.8,2.9,3,3.1,3.2,3.3,3.4,3.5,3.6,3.7,3.8,3.9,4],"tickSize":-5,"labels":false,"domain":false,"title":null}},
    "color":{"field":"series","type":"nominal"}
   }},
  {"data":{"values":[{"label":"×10⁻⁶"}]},
   "mark":{"type":"text","align":"left","baseline":"bottom","font":"Liberation Sans","fontSize":14,"dy":-1,"color":"#000000"},
   "encoding":{"x":{"datum":-100,"axis":null},"y":{"datum":4,"axis":null},"text":{"field":"label"}}},
  {"data":{"values":[{"label":"LHCf Preliminary"}]},
   "mark":{"type":"text","align":"center","baseline":"middle","angle":347,"font":"Liberation Sans","fontWeight":"bold","fontSize":28,"color":"#9a9a9a"},
   "encoding":{"x":{"datum":4601,"axis":null},"y":{"datum":1.43,"axis":null},"text":{"field":"label"}}},
  {"data":{"values":[{"label":"Large"}]},
   "mark":{"type":"text","align":"left","baseline":"alphabetic","font":"DejaVu Serif","fontWeight":"bold","fontSize":25,"color":"#A31919"},
   "encoding":{"x":{"datum":1011,"axis":null},"y":{"datum":3.475,"axis":null},"text":{"field":"label"}}},
  {"data":{"values":[{"label":"tower"}]},
   "mark":{"type":"text","align":"right","baseline":"alphabetic","font":"DejaVu Serif","fontWeight":"normal","fontSize":25,"color":"#A31919"},
   "encoding":{"x":{"datum":5346,"axis":null},"y":{"datum":3.475,"axis":null},"text":{"field":"label"}}},
  {"data":{"values":[{"label":"7 TeV pp"}]},
   "mark":{"type":"text","align":"center","baseline":"alphabetic","font":"DejaVu Serif","fontWeight":"normal","fontSize":25,"color":"#A31919"},
   "encoding":{"x":{"datum":3178,"axis":null},"y":{"datum":3.05,"axis":null},"text":{"field":"label"}}}
 ]
}
]
}
